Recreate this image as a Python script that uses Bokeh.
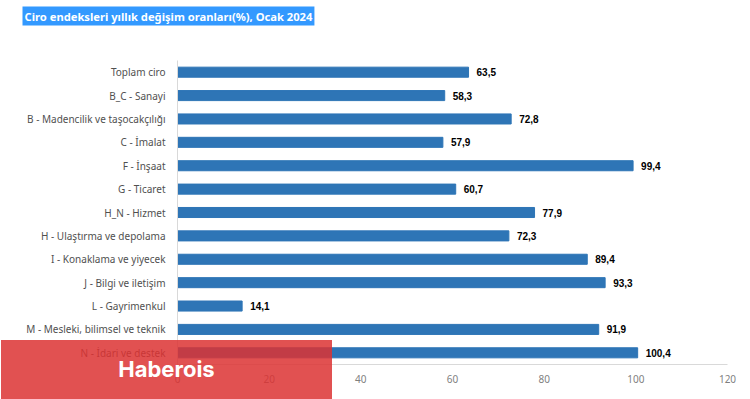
from bokeh.plotting import figure
from bokeh.models import FactorRange, Range1d, FixedTicker, ColumnDataSource, Div, Title
from bokeh.layouts import column
from bokeh.core.properties import value
from bokeh.embed import file_html
from bokeh.resources import INLINE

categories = [
    "Toplam ciro",
    "B_C - Sanayi",
    "B - Madencilik ve taşocakçılığı",
    "C - İmalat",
    "F - İnşaat",
    "G - Ticaret",
    "H_N - Hizmet",
    "H - Ulaştırma ve depolama",
    "I - Konaklama ve yiyecek",
    "J - Bilgi ve iletişim",
    "L - Gayrimenkul",
    "M - Mesleki, bilimsel ve teknik",
    "N - İdari ve destek",
]
values = [63.5, 58.3, 72.8, 57.9, 99.4, 60.7, 77.9, 72.3, 89.4, 93.3, 14.1, 91.9, 100.4]
x_ticks = [0, 20, 40, 60, 80, 100, 120]
title_text = "Ciro endeksleri yıllık değişim oranları(%), Ocak 2024"
watermark = "Haberois"

labels = [f"{v:.1f}".replace(".", ",") for v in values]
src = ColumnDataSource(dict(cat=categories, val=values, lab=labels))

p = figure(width=750, height=399, output_backend="svg", toolbar_location=None,
           y_range=FactorRange(factors=list(reversed(categories))),
           x_range=Range1d(0, 120),
           min_border_left=177, min_border_right=23, min_border_top=60, min_border_bottom=35)
p.outline_line_color = None
p.xgrid.visible = False
p.ygrid.visible = False
p.background_fill_color = "white"
p.border_fill_color = "white"

# empty spacer between the frame and the title
p.add_layout(Title(text=" ", text_font_size="1px", standoff=30), "above")

p.title.text = title_text
p.title.align = "left"
p.title.vertical_align = "top"
p.title.offset = -155
p.title.standoff = 0
p.title.text_font = "Noto Sans"
p.title.text_font_size = "11.2px"
p.title.text_font_style = "bold"
p.title.text_color = "white"
p.title.background_fill_color = "#3399ff"
p.title.padding = 2

p.hbar(y="cat", right="val", left=0, height=0.43, color="#2e75b6", source=src)
p.text(x="val", y="cat", text="lab", source=src, x_offset=8, text_baseline="middle",
       text_align="left", text_font=value("Liberation Sans"), text_font_size="10px",
       text_font_style="bold", text_color="#000000")

p.xaxis.ticker = FixedTicker(ticks=x_ticks)
for ax in (p.xaxis, p.yaxis):
    ax.axis_line_color = "#d9d9d9"
    ax.major_tick_line_color = None
    ax.minor_tick_line_color = None
    ax.major_tick_out = 0
    ax.major_tick_in = 0
    ax.minor_tick_out = 0
    ax.major_label_text_font = "Noto Sans"
    ax.major_label_text_font_size = "10px"
p.xaxis.major_label_text_color = "#7f7f7f"
p.yaxis.major_label_text_color = "#505050"
p.yaxis.major_label_standoff = 12
p.xaxis.major_label_standoff = 10

wm = Div(text=watermark, width=331, height=59,
         styles={"position": "absolute", "left": "-4px", "top": "335px",
                 "background-color": "rgba(220, 50, 50, 0.85)", "color": "white",
                 "font-family": "Inter", "font-weight": "bold", "font-size": "22px",
                 "display": "flex", "align-items": "center", "justify-content": "center",
                 "z-index": "10"})

layout = column(p, wm, styles={"position": "relative"})

open("out.html", "w").write(file_html(layout, INLINE))
